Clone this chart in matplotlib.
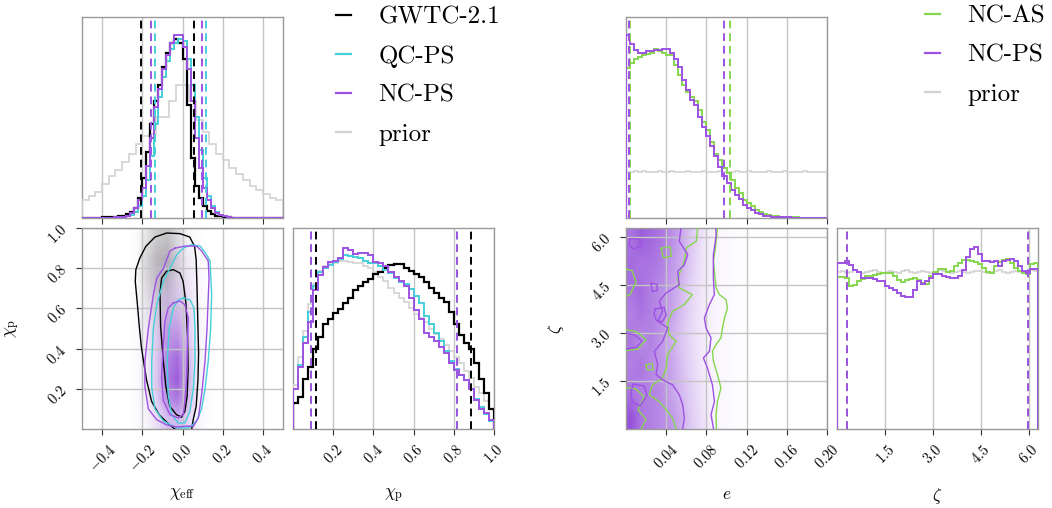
import numpy as np
import matplotlib
matplotlib.use("Agg")
import matplotlib.pyplot as plt
from matplotlib.colors import to_rgb
from matplotlib.lines import Line2D

plt.rcParams["font.family"] = "cmr10"
plt.rcParams["mathtext.fontset"] = "cm"
plt.rcParams["axes.formatter.use_mathtext"] = True

BLACK = "#000000"
CYAN = "#45cfd9"
PURPLE = "#9d52e2"
GREEN = "#86d64f"
PRIOR = "#d2d2d2"

## 1D marginals (heights as fraction of the panel height)
# chi_eff, 50 bins on [-0.5, 0.5]
chieff_gwtc = [0, 0, 0, 0.001, 0.002, 0.003, 0.004, 0.005, 0.007, 0.009,
               0.012, 0.018, 0.03, 0.05, 0.10, 0.20, 0.33, 0.47, 0.58, 0.66,
               0.75, 0.82, 0.87, 0.89, 0.87, 0.79, 0.56, 0.30, 0.16, 0.10,
               0.06, 0.035, 0.02, 0.012, 0.008, 0.005, 0.003, 0.002, 0.001, 0.001,
               0, 0, 0, 0, 0, 0, 0, 0, 0, 0]
chieff_ncps = [0, 0, 0, 0, 0, 0, 0.001, 0.002, 0.003, 0.005,
               0.007, 0.012, 0.025, 0.05, 0.09, 0.15, 0.26, 0.40, 0.55, 0.64,
               0.74, 0.81, 0.87, 0.91, 0.91, 0.85, 0.74, 0.58, 0.40, 0.25,
               0.15, 0.09, 0.05, 0.026, 0.014, 0.008, 0.004, 0.002, 0.001, 0,
               0, 0, 0, 0, 0, 0, 0, 0, 0, 0]
chieff_qcps = [0, 0, 0, 0, 0, 0, 0.001, 0.001, 0.002, 0.003,
               0.005, 0.008, 0.014, 0.03, 0.06, 0.11, 0.19, 0.31, 0.47, 0.60,
               0.70, 0.78, 0.84, 0.87, 0.89, 0.88, 0.79, 0.66, 0.50, 0.34,
               0.20, 0.11, 0.06, 0.03, 0.015, 0.008, 0.004, 0.002, 0.001, 0,
               0, 0, 0, 0, 0, 0, 0, 0, 0, 0]
# prior uses 30 bins
chieff_prior = [0.09, 0.107, 0.13, 0.17, 0.21, 0.24, 0.28, 0.32, 0.37, 0.41,
                0.42, 0.50, 0.50, 0.58, 0.66, 0.66, 0.58, 0.49, 0.43, 0.37,
                0.32, 0.29, 0.25, 0.22, 0.19, 0.16, 0.14, 0.12, 0.10, 0.09]
chieff_q = {"gwtc": (-0.205, 0.057), "ncps": (-0.158, 0.097), "qcps": (-0.135, 0.115)}

# chi_p, 40 bins on [0, 1]
chip_gwtc = [0.13, 0.16, 0.25, 0.31, 0.40, 0.46, 0.52, 0.545, 0.575, 0.595,
             0.625, 0.65, 0.69, 0.71, 0.73, 0.745, 0.77, 0.78, 0.80, 0.815,
             0.82, 0.82, 0.80, 0.785, 0.77, 0.755, 0.73, 0.70, 0.675, 0.65,
             0.63, 0.58, 0.52, 0.47, 0.43, 0.40, 0.33, 0.25, 0.18, 0.10]
chip_ncps = [0.20, 0.31, 0.43, 0.53, 0.69, 0.765, 0.805, 0.83, 0.835, 0.85,
             0.90, 0.89, 0.87, 0.875, 0.875, 0.865, 0.83, 0.825, 0.81, 0.78,
             0.755, 0.735, 0.71, 0.65, 0.59, 0.545, 0.48, 0.46, 0.44, 0.41,
             0.38, 0.33, 0.295, 0.27, 0.245, 0.20, 0.146, 0.10, 0.08, 0.046]
chip_qcps = [0.20, 0.32, 0.46, 0.58, 0.71, 0.78, 0.80, 0.815, 0.833, 0.845,
             0.865, 0.86, 0.855, 0.85, 0.835, 0.828, 0.824, 0.81, 0.79, 0.775,
             0.75, 0.73, 0.72, 0.695, 0.66, 0.625, 0.56, 0.52, 0.48, 0.44,
             0.39, 0.34, 0.30, 0.27, 0.245, 0.20, 0.15, 0.11, 0.075, 0.04]
chip_prior = [0.22, 0.36, 0.49, 0.62, 0.72, 0.785, 0.81, 0.82, 0.828, 0.835,
              0.838, 0.832, 0.828, 0.825, 0.812, 0.80, 0.78, 0.757, 0.735, 0.70,
              0.675, 0.65, 0.63, 0.60, 0.57, 0.55, 0.53, 0.50, 0.475, 0.45,
              0.42, 0.39, 0.36, 0.33, 0.29, 0.255, 0.21, 0.18, 0.14, 0.10]
chip_q = {"gwtc": (0.113, 0.887), "ncps": (0.088, 0.816), "qcps": (0.09, 0.818)}

# eccentricity e, 50 bins on [0, 0.2]
e_ncps = [0.91, 0.868, 0.835, 0.82, 0.82, 0.83, 0.83, 0.835, 0.835, 0.843,
          0.843, 0.82, 0.79, 0.75, 0.686, 0.636, 0.587, 0.56, 0.50, 0.455,
          0.41, 0.36, 0.306, 0.256, 0.207, 0.174, 0.14, 0.116, 0.094, 0.066,
          0.05, 0.038, 0.025, 0.018, 0.012, 0.008, 0.006, 0.005, 0.004, 0.003,
          0.003, 0.002, 0.002, 0.002, 0.001, 0.001, 0.001, 0.001, 0.001, 0.001]
e_ncas = [0.744, 0.77, 0.79, 0.80, 0.81, 0.815, 0.82, 0.84, 0.83, 0.82,
          0.81, 0.81, 0.76, 0.71, 0.66, 0.628, 0.60, 0.58, 0.537, 0.48,
          0.438, 0.38, 0.32, 0.29, 0.248, 0.223, 0.19, 0.149, 0.124, 0.09,
          0.074, 0.058, 0.04, 0.028, 0.021, 0.014, 0.011, 0.008, 0.006, 0.005,
          0.004, 0.003, 0.003, 0.002, 0.002, 0.002, 0.001, 0.001, 0.001, 0.001]
e_prior = [0.231, 0.229, 0.232, 0.230, 0.233, 0.231, 0.228, 0.230, 0.232, 0.229,
           0.231, 0.234, 0.230, 0.228, 0.231, 0.232, 0.229, 0.231, 0.230, 0.233,
           0.231, 0.229, 0.230, 0.232, 0.231, 0.228, 0.230, 0.233, 0.231, 0.229,
           0.232, 0.230, 0.231, 0.228, 0.231, 0.233, 0.230, 0.229, 0.231, 0.232,
           0.230, 0.228, 0.231, 0.230, 0.232, 0.229, 0.231, 0.230, 0.231, 0.230]
e_q = {"ncps": (0.0033, 0.098), "ncas": (0.004, 0.103)}

# mean anomaly zeta, 50 bins on [0, 2pi]
zeta_ncps = [0.826, 0.826, 0.834, 0.818, 0.79, 0.78, 0.75, 0.75, 0.75, 0.745,
             0.735, 0.735, 0.713, 0.70, 0.69, 0.677, 0.66, 0.656, 0.656, 0.69,
             0.735, 0.72, 0.735, 0.75, 0.77, 0.77, 0.76, 0.755, 0.75, 0.75,
             0.76, 0.79, 0.856, 0.897, 0.905, 0.87, 0.835, 0.838, 0.83, 0.838,
             0.81, 0.834, 0.84, 0.845, 0.834, 0.81, 0.785, 0.776, 0.796, 0.796]
zeta_ncas = [0.756, 0.756, 0.75, 0.71, 0.718, 0.735, 0.746, 0.76, 0.76, 0.765,
             0.77, 0.776, 0.776, 0.778, 0.76, 0.74, 0.73, 0.74, 0.745, 0.75,
             0.74, 0.725, 0.72, 0.76, 0.78, 0.796, 0.796, 0.78, 0.786, 0.81,
             0.826, 0.84, 0.84, 0.836, 0.83, 0.82, 0.80, 0.78, 0.776, 0.81,
             0.83, 0.84, 0.846, 0.826, 0.80, 0.784, 0.776, 0.77, 0.82, 0.826]
zeta_prior = [0.78, 0.785, 0.775, 0.78, 0.79, 0.782, 0.776, 0.78, 0.785, 0.79,
              0.78, 0.775, 0.782, 0.786, 0.78, 0.778, 0.784, 0.79, 0.782, 0.776,
              0.78, 0.785, 0.78, 0.776, 0.782, 0.79, 0.786, 0.78, 0.778, 0.782,
              0.785, 0.78, 0.776, 0.782, 0.788, 0.784, 0.78, 0.776, 0.78, 0.785,
              0.79, 0.782, 0.778, 0.78, 0.785, 0.782, 0.776, 0.78, 0.79, 0.785]
zeta_q = {"ncps": (0.31, 5.98), "ncas": (0.31, 5.98)}

## 2D densities (intensity 0..1), rows from bottom to top
# chi_eff in [-0.3, 0.2] (10 cols), chi_p in [0, 1] (10 rows)
dens_gwtc = [
    [0, 0.01, 0.02, 0.03, 0.03, 0.03, 0.02, 0.01, 0, 0],
    [0, 0.01, 0.02, 0.03, 0.04, 0.03, 0.02, 0.01, 0, 0],
    [0, 0.01, 0.02, 0.04, 0.04, 0.04, 0.02, 0.01, 0, 0],
    [0, 0.01, 0.03, 0.05, 0.05, 0.04, 0.02, 0.01, 0, 0],
    [0, 0.01, 0.05, 0.09, 0.08, 0.05, 0.02, 0.01, 0, 0],
    [0, 0.02, 0.10, 0.17, 0.15, 0.07, 0.03, 0.01, 0, 0],
    [0, 0.03, 0.18, 0.28, 0.26, 0.12, 0.04, 0.01, 0, 0],
    [0, 0.04, 0.25, 0.40, 0.42, 0.18, 0.05, 0.01, 0, 0],
    [0, 0.04, 0.28, 0.45, 0.50, 0.25, 0.06, 0.01, 0, 0],
    [0, 0.03, 0.20, 0.34, 0.38, 0.22, 0.05, 0.01, 0, 0],
]
dens_ncps_chi = [
    [0, 0.02, 0.05, 0.15, 0.30, 0.35, 0.20, 0.05, 0.01, 0],
    [0, 0.02, 0.08, 0.25, 0.55, 0.65, 0.35, 0.08, 0.02, 0],
    [0, 0.02, 0.08, 0.28, 0.65, 0.80, 0.40, 0.08, 0.02, 0],
    [0, 0.02, 0.08, 0.26, 0.60, 0.72, 0.38, 0.08, 0.02, 0],
    [0, 0.02, 0.07, 0.22, 0.50, 0.55, 0.30, 0.07, 0.02, 0],
    [0, 0.02, 0.06, 0.18, 0.36, 0.38, 0.22, 0.06, 0.01, 0],
    [0, 0.01, 0.04, 0.12, 0.22, 0.22, 0.15, 0.05, 0.01, 0],
    [0, 0.01, 0.03, 0.08, 0.12, 0.13, 0.10, 0.04, 0.01, 0],
    [0, 0, 0.02, 0.04, 0.06, 0.08, 0.07, 0.03, 0.01, 0],
    [0, 0, 0, 0.01, 0.02, 0.03, 0.02, 0.01, 0, 0],
]
# e in [0, 0.12] (12 cols), zeta in [0, 2pi] (8 rows)
dens_ncps_ecc = [
    [0.75, 0.60, 0.55, 0.50, 0.45, 0.35, 0.22, 0.14, 0.07, 0.03, 0.02, 0.01],
    [0.60, 0.55, 0.55, 0.50, 0.40, 0.30, 0.20, 0.12, 0.06, 0.03, 0.02, 0.01],
    [0.55, 0.60, 0.50, 0.45, 0.40, 0.28, 0.18, 0.10, 0.05, 0.03, 0.02, 0.01],
    [0.60, 0.50, 0.55, 0.45, 0.35, 0.25, 0.16, 0.10, 0.05, 0.03, 0.02, 0.01],
    [0.55, 0.60, 0.55, 0.50, 0.40, 0.28, 0.17, 0.10, 0.06, 0.03, 0.02, 0.01],
    [0.60, 0.65, 0.55, 0.50, 0.42, 0.30, 0.18, 0.11, 0.06, 0.03, 0.02, 0.01],
    [0.65, 0.60, 0.60, 0.55, 0.45, 0.35, 0.22, 0.12, 0.06, 0.03, 0.02, 0.01],
    [0.60, 0.70, 0.65, 0.60, 0.50, 0.38, 0.24, 0.13, 0.06, 0.03, 0.02, 0.01],
]

## Credible contours: (x, y) pairs
cont_gwtc_outer = [(-0.038, 0), (-0.071, 0.027), (-0.116, 0.071), (-0.154, 0.138), (-0.179, 0.245),
                   (-0.195, 0.345), (-0.205, 0.411), (-0.215, 0.511), (-0.225, 0.627), (-0.235, 0.735),
                   (-0.232, 0.793), (-0.212, 0.851), (-0.182, 0.909), (-0.137, 0.955), (-0.079, 0.975),
                   (-0.013, 0.972), (0.036, 0.955), (0.060, 0.909), (0.068, 0.842), (0.072, 0.71),
                   (0.076, 0.544), (0.080, 0.378), (0.077, 0.245), (0.068, 0.113), (0.053, 0.046), (0.046, 0)]
cont_gwtc_inner = [(-0.005, 0.06), (-0.030, 0.071), (-0.063, 0.113), (-0.083, 0.212), (-0.096, 0.345),
                   (-0.109, 0.511), (-0.112, 0.677), (-0.104, 0.751), (-0.080, 0.784), (-0.046, 0.793),
                   (-0.013, 0.776), (0.003, 0.735), (0.017, 0.627), (0.025, 0.461), (0.028, 0.295),
                   (0.023, 0.163), (0.012, 0.088), (-0.005, 0.06)]
cont_ncps_outer = [(-0.037, 0.90), (0.012, 0.91), (0.07, 0.91), (0.095, 0.886), (0.128, 0.836),
                   (0.132, 0.75), (0.122, 0.5), (0.112, 0.338), (0.095, 0.17), (0.079, 0.055),
                   (0.053, 0.012), (0.029, 0.015), (-0.029, 0.01), (-0.078, 0.02), (-0.128, 0.046),
                   (-0.170, 0.10), (-0.187, 0.21), (-0.187, 0.338), (-0.170, 0.5), (-0.145, 0.668),
                   (-0.128, 0.75), (-0.095, 0.80), (-0.062, 0.886), (-0.037, 0.90)]
cont_ncps_inner = [(-0.046, 0.627), (-0.012, 0.637), (0.012, 0.618), (0.029, 0.552), (0.024, 0.42),
                   (0.021, 0.254), (0.012, 0.14), (0.004, 0.071), (-0.021, 0.055), (-0.062, 0.071),
                   (-0.095, 0.14), (-0.104, 0.254), (-0.095, 0.42), (-0.087, 0.537), (-0.071, 0.602),
                   (-0.046, 0.627)]
cont_qcps_outer = [(0.046, 0.917), (0.087, 0.91), (0.112, 0.88), (0.137, 0.836), (0.145, 0.668),
                   (0.140, 0.5), (0.128, 0.338), (0.112, 0.2), (0.095, 0.1), (0.07, 0.04),
                   (0.037, 0.008), (0.021, 0.005), (-0.029, 0.005), (-0.095, 0.04), (-0.137, 0.10),
                   (-0.153, 0.204), (-0.153, 0.338), (-0.145, 0.5), (-0.128, 0.618), (-0.095, 0.736),
                   (-0.062, 0.80), (-0.029, 0.867), (0.004, 0.90), (0.046, 0.917)]
cont_qcps_inner = [(0.004, 0.652), (0.037, 0.643), (0.057, 0.602), (0.062, 0.5), (0.062, 0.338),
                   (0.054, 0.204), (0.037, 0.09), (0.012, 0.03), (-0.021, 0.03), (-0.054, 0.071),
                   (-0.071, 0.17), (-0.076, 0.338), (-0.066, 0.5), (-0.046, 0.602), (-0.021, 0.643),
                   (0.004, 0.652)]

ecc_ncps_outer = [(0.0894, 6.28), (0.0896, 6.02), (0.0869, 5.45), (0.0869, 4.72), (0.0879, 4.2),
                  (0.083, 3.89), (0.078, 3.47), (0.0796, 3.16), (0.0846, 2.85), (0.083, 2.43),
                  (0.077, 2.22), (0.081, 1.91), (0.086, 1.38), (0.088, 0.86), (0.0846, 0.45),
                  (0.087, 0.03), (0.087, 0)]
ecc_ncas_outer = [(0.091, 6.28), (0.089, 5.66), (0.087, 5.24), (0.0896, 4.41), (0.093, 4.2),
                  (0.0995, 4.04), (0.101, 3.78), (0.098, 3.47), (0.096, 3.16), (0.0945, 2.85),
                  (0.0896, 2.64), (0.086, 2.43), (0.087, 2.12), (0.091, 1.70), (0.0945, 1.28),
                  (0.091, 0.86), (0.0896, 0.45), (0.09, 0)]
ecc_ncps_inner = [[(0.0547, 6.28), (0.053, 5.87), (0.0614, 5.45), (0.058, 5.13), (0.0514, 4.93),
                   (0.053, 4.51), (0.0398, 4.25), (0.033, 3.99), (0.0365, 3.68), (0.0315, 3.37),
                   (0.0415, 3.16), (0.0365, 2.74), (0.0282, 2.43), (0.0315, 2.01), (0.030, 1.70),
                   (0.0365, 1.54), (0.0464, 1.38), (0.053, 1.07), (0.0564, 0.76), (0.058, 0.34),
                   (0.0564, 0)],
                  [(0.004, 5.95), (0.014, 5.93), (0.016, 5.75), (0.008, 5.62), (0.003, 5.75), (0.004, 5.95)],
                  [(0.025, 4.55), (0.031, 4.52), (0.031, 4.32), (0.026, 4.30), (0.025, 4.55)],
                  [(0.029, 3.75), (0.038, 3.80), (0.040, 3.55), (0.036, 3.35), (0.030, 3.40),
                   (0.028, 3.60), (0.029, 3.75)],
                  [(0.0, 3.0), (0.008, 2.95), (0.016, 2.75), (0.010, 2.55), (0.0, 2.5)],
                  [(0.007, 1.40), (0.018, 1.35), (0.021, 1.05), (0.014, 0.72), (0.006, 0.85),
                   (0.005, 1.15), (0.007, 1.40)]]
ecc_ncas_inner = [[(0.0713, 6.28), (0.070, 5.87), (0.060, 5.66), (0.058, 5.24), (0.0514, 4.72),
                   (0.053, 4.41), (0.066, 4.20), (0.058, 3.89), (0.0464, 3.68), (0.0415, 3.32),
                   (0.043, 2.95), (0.050, 2.74), (0.0415, 2.33), (0.040, 1.91), (0.0365, 1.60),
                   (0.0265, 1.38), (0.023, 1.07), (0.033, 0.86), (0.040, 0.60), (0.0464, 0.34),
                   (0.050, 0)],
                  [(0.0, 5.0), (0.006, 4.95), (0.010, 4.60), (0.004, 4.20), (0.0, 4.15)],
                  [(0.0, 3.1), (0.010, 3.05), (0.020, 2.80), (0.012, 2.50), (0.0, 2.45)],
                  [(0.0, 1.3), (0.010, 1.25), (0.018, 1.00), (0.012, 0.60), (0.020, 0.30), (0.015, 0)],
                  [(0.035, 5.65), (0.044, 5.70), (0.045, 5.40), (0.037, 5.35), (0.035, 5.65)],
                  [(0.020, 2.00), (0.026, 2.05), (0.027, 1.85), (0.021, 1.85), (0.020, 2.00)]]

TWO_PI = 2 * np.pi

fig = plt.figure(figsize=(10.52, 5.08), dpi=100)
W, H = 1052, 508


def add_ax(x0, y0, x1, y1):
    return fig.add_axes([x0 / W, 1 - y1 / H, (x1 - x0) / W, (y1 - y0) / H])


def style(ax, xticks, yticks, xlab=True, ylab=True, ygrid=True):
    for s in ax.spines.values():
        s.set_color("#9a9a9a")
        s.set_linewidth(1.0)
    ax.set_xticks(xticks)
    ax.set_yticks(yticks)
    ax.tick_params(direction="out", length=4, width=0.8, color="#333333",
                   labelsize=10.5, pad=5)
    if not xlab:
        ax.set_xticklabels([])
    if not ylab:
        ax.set_yticklabels([])
    for lab in ax.get_xticklabels() + ax.get_yticklabels():
        lab.set_rotation(45)
    ax.grid(True, axis="both" if ygrid else "x", color="#c4c4c4", lw=1.0)


def stairs(ax, vals, lo, hi, color, lw):
    edges = np.linspace(lo, hi, len(vals) + 1)
    ax.stairs(vals, edges, color=color, lw=lw, zorder=3)


def density(ax, vals, color, extent, amax):
    v = np.array(vals, dtype=float)
    rgba = np.zeros(v.shape + (4,))
    rgba[..., :3] = to_rgb(color)
    rgba[..., 3] = np.clip(v * amax, 0, 1)
    ax.imshow(rgba, extent=extent, origin="lower", aspect="auto",
              interpolation="bilinear", zorder=0)


def curve(ax, pts, color, lw=1.0):
    xy = np.array(pts)
    ax.plot(xy[:, 0], xy[:, 1], color=color, lw=lw, zorder=3)


def labels(ax, xl, yl=None):
    ax.set_xlabel(xl, fontsize=12.5)
    ax.xaxis.set_label_coords(0.5, -0.285)
    if yl is not None:
        ax.set_ylabel(yl, fontsize=12.5)
        ax.yaxis.set_label_coords(-0.30, 0.5)


# ---------------- left corner: chi_eff / chi_p ----------------
ax_a = add_ax(82, 17, 283, 218)
ax_b = add_ax(82, 228, 283, 429)
ax_c = add_ax(293, 228, 494, 429)

stairs(ax_a, chieff_prior, -0.5, 0.5, PRIOR, 1.2)
stairs(ax_a, chieff_gwtc, -0.5, 0.5, BLACK, 1.6)
stairs(ax_a, chieff_qcps, -0.5, 0.5, CYAN, 1.4)
stairs(ax_a, chieff_ncps, -0.5, 0.5, PURPLE, 1.4)
for key, c in [("gwtc", BLACK), ("ncps", PURPLE), ("qcps", CYAN)]:
    for q in chieff_q[key]:
        ax_a.axvline(q, color=c, ls="--", lw=1.4, dashes=(4, 2.5), zorder=4)
ax_a.set_xlim(-0.5, 0.5)
ax_a.set_ylim(0, 1)
style(ax_a, [-0.4, -0.2, 0.0, 0.2, 0.4], [], xlab=False, ygrid=False)

density(ax_b, dens_gwtc, "#000000", [-0.3, 0.2, 0, 1], 0.6)
density(ax_b, dens_ncps_chi, "#8a3fd6", [-0.3, 0.2, 0, 1], 1.05)
curve(ax_b, cont_gwtc_outer, BLACK)
curve(ax_b, cont_gwtc_inner, BLACK)
curve(ax_b, cont_qcps_outer, CYAN)
curve(ax_b, cont_qcps_inner, CYAN)
curve(ax_b, cont_ncps_outer, PURPLE)
curve(ax_b, cont_ncps_inner, PURPLE)
ax_b.set_xlim(-0.5, 0.5)
ax_b.set_ylim(0, 1)
style(ax_b, [-0.4, -0.2, 0.0, 0.2, 0.4], [0.2, 0.4, 0.6, 0.8, 1.0])
labels(ax_b, r"$\chi_{\rm eff}$", r"$\chi_{\rm p}$")

stairs(ax_c, chip_prior, 0, 1, PRIOR, 1.2)
stairs(ax_c, chip_gwtc, 0, 1, BLACK, 1.6)
stairs(ax_c, chip_qcps, 0, 1, CYAN, 1.4)
stairs(ax_c, chip_ncps, 0, 1, PURPLE, 1.4)
for key, c in [("gwtc", BLACK), ("qcps", CYAN), ("ncps", PURPLE)]:
    for q in chip_q[key]:
        ax_c.axvline(q, color=c, ls="--", lw=1.4, dashes=(4, 2.5), zorder=4)
ax_c.set_xlim(0, 1)
ax_c.set_ylim(0, 1)
style(ax_c, [0.2, 0.4, 0.6, 0.8, 1.0], [], ygrid=False)
labels(ax_c, r"$\chi_{\rm p}$")

h_left = [Line2D([], [], color=c, lw=1.6) for c in [BLACK, CYAN, PURPLE, PRIOR]]
fig.legend(h_left, ["GWTC-2.1", "QC-PS", "NC-PS", "prior"], loc="upper left",
           bbox_to_anchor=(336 / W, 1 - 6 / H), frameon=False, fontsize=18,
           handlelength=0.6, handletextpad=1.1, labelspacing=0.66,
           borderpad=0, borderaxespad=0)

# ---------------- right corner: e / zeta ----------------
ax_d = add_ax(626, 17, 827, 218)
ax_e = add_ax(626, 228, 827, 429)
ax_f = add_ax(837, 228, 1038, 429)

stairs(ax_d, e_prior, 0, 0.2, PRIOR, 1.2)
stairs(ax_d, e_ncas, 0, 0.2, GREEN, 1.4)
stairs(ax_d, e_ncps, 0, 0.2, PURPLE, 1.4)
for key, c in [("ncas", GREEN), ("ncps", PURPLE)]:
    for q in e_q[key]:
        ax_d.axvline(q, color=c, ls="--", lw=1.4, dashes=(4, 2.5), zorder=4)
ax_d.set_xlim(0, 0.2)
ax_d.set_ylim(0, 1)
style(ax_d, [0.04, 0.08, 0.12, 0.16, 0.20], [], xlab=False, ygrid=False)

density(ax_e, dens_ncps_ecc, "#8a3fd6", [0, 0.12, 0, TWO_PI], 1.2)
curve(ax_e, ecc_ncas_outer, GREEN)
curve(ax_e, ecc_ncps_outer, PURPLE)
for seg in ecc_ncas_inner:
    curve(ax_e, seg, GREEN)
for seg in ecc_ncps_inner:
    curve(ax_e, seg, PURPLE)
ax_e.set_xlim(0, 0.2)
ax_e.set_ylim(0, TWO_PI)
style(ax_e, [0.04, 0.08, 0.12, 0.16, 0.20], [1.5, 3.0, 4.5, 6.0])
labels(ax_e, r"$e$", r"$\zeta$")

stairs(ax_f, zeta_prior, 0, TWO_PI, PRIOR, 1.2)
stairs(ax_f, zeta_ncas, 0, TWO_PI, GREEN, 1.4)
stairs(ax_f, zeta_ncps, 0, TWO_PI, PURPLE, 1.4)
for key, c in [("ncas", GREEN), ("ncps", PURPLE)]:
    for q in zeta_q[key]:
        ax_f.axvline(q, color=c, ls="--", lw=1.4, dashes=(4, 2.5), zorder=4)
ax_f.set_xlim(0, TWO_PI)
ax_f.set_ylim(0, 1)
style(ax_f, [1.5, 3.0, 4.5, 6.0], [], ygrid=False)
labels(ax_f, r"$\zeta$")

h_right = [Line2D([], [], color=c, lw=1.6) for c in [GREEN, PURPLE, PRIOR]]
fig.legend(h_right, ["NC-AS", "NC-PS", "prior"], loc="upper left",
           bbox_to_anchor=(925 / W, 1 - 5 / H), frameon=False, fontsize=18,
           handlelength=0.6, handletextpad=1.1, labelspacing=0.66,
           borderpad=0, borderaxespad=0)

fig.savefig("out.png", dpi=100)
